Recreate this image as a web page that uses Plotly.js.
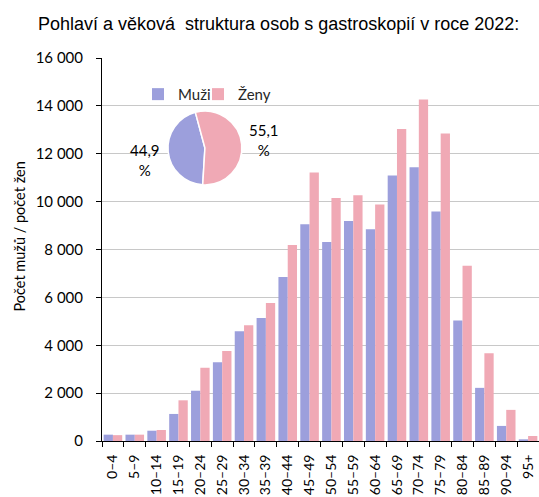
<!DOCTYPE html>
<html>
<head>
<meta charset="utf-8">
<script src="https://cdn.plot.ly/plotly-3.0.1.min.js"></script>
<style>html,body{margin:0;padding:0;background:#fff;}#chart{width:539px;height:497px;}</style>
</head>
<body>
<div id="chart"></div>
<script>
const categories = ['0–4','5–9','10–14','15–19','20–24','25–29','30–34','35–39','40–44','45–49','50–54','55–59','60–64','65–69','70–74','75–79','80–84','85–89','90–94','95+'];
const men   = [265, 265, 430, 1130, 2100, 3290, 4590, 5140, 6850, 9050, 8310, 9190, 8850, 11090, 11440, 9590, 5030, 2220, 630, 70];
const women = [245, 265, 460, 1700, 3060, 3760, 4840, 5760, 8190, 11220, 10150, 10270, 9880, 13030, 14270, 12850, 7320, 3670, 1300, 210];
const seriesNames = ['Muži', 'Ženy'];
const shares = [44.9, 55.1];
const yTicks = [0, 2000, 4000, 6000, 8000, 10000, 12000, 14000, 16000];
const yTitle = 'Počet mužů / počet žen';

const blue = '#9c9fdc';
const pink = '#f0a9b5';
const bodyFont = 'Lato, "Open Sans", sans-serif';

const traces = [
  {type: 'bar', name: seriesNames[0], x: categories, y: men, marker: {color: blue}, hoverinfo: 'none', legend: 'legend'},
  {type: 'bar', name: seriesNames[1], x: categories, y: women, marker: {color: pink}, hoverinfo: 'none', legend: 'legend2'},
  {type: 'pie', labels: seriesNames, values: shares, sort: false, direction: 'clockwise', rotation: -176.6,
   marker: {colors: [blue, pink], line: {color: '#ffffff', width: 1.5}},
   textinfo: 'none', showlegend: false, hoverinfo: 'none',
   domain: {x: [0.151, 0.320], y: [0.664, 0.866]}}
];

const fmt = v => v.toFixed(1).replace('.', ',') + '<br>%';
const legendBase = {orientation: 'h', xanchor: 'left', y: 0.905, yanchor: 'middle',
  font: {family: bodyFont, size: 15, color: '#262626'}, bgcolor: 'rgba(0,0,0,0)', itemwidth: 30};

const layout = {
  width: 539, height: 497,
  margin: {l: 102, r: 0, t: 58, b: 56, pad: 0},
  paper_bgcolor: '#ffffff', plot_bgcolor: '#ffffff',
  separators: ', ',
  font: {family: bodyFont, size: 14, color: '#262626'},
  title: {text: 'Pohlaví a věková\u00A0 struktura osob s gastroskopií v roce 2022:',
          font: {family: '"Liberation Sans", Arial, sans-serif', size: 18, color: '#000000'},
          x: 0.517, xanchor: 'center', xref: 'container', y: 0.952, yanchor: 'middle', yref: 'container'},
  barmode: 'group', bargap: 0.15, bargroupgap: 0,
  showlegend: true,
  legend: Object.assign({}, legendBase, {x: (138-102)/437}),
  legend2: Object.assign({}, legendBase, {x: (198-102)/437}),
  xaxis: {type: 'category', showline: true, linecolor: '#000000', linewidth: 1,
          ticks: 'outside', tickson: 'boundaries', ticklen: 5, tickcolor: '#000000',
          tickangle: -90, ticklabelstandoff: 7, tickfont: {family: bodyFont, size: 14, color: '#000000'},
          showgrid: false, zeroline: false, fixedrange: true},
  yaxis: {range: [0, 16000], tickvals: yTicks, tickformat: ',d',
          showline: true, linecolor: '#000000', linewidth: 1,
          ticks: 'outside', ticklen: 5, tickcolor: '#000000', ticklabelstandoff: 10,
          tickfont: {family: bodyFont, size: 15, color: '#000000'},
          showgrid: true, gridcolor: '#c8c8c8', gridwidth: 1, zeroline: false,
          fixedrange: true},
  annotations: [
    {text: yTitle, xref: 'paper', yref: 'paper', x: (19-102)/437, y: (441-236.5)/383, textangle: -90,
     xanchor: 'center', yanchor: 'middle', showarrow: false,
     font: {family: bodyFont, size: 14.5, color: '#000000'}},
    {text: fmt(shares[0]), xref: 'paper', yref: 'paper', x: (145-102)/437, y: (441-160)/383,
     xanchor: 'center', yanchor: 'middle', showarrow: false, align: 'center',
     font: {family: bodyFont, size: 15, color: '#000000'}},
    {text: fmt(shares[1]), xref: 'paper', yref: 'paper', x: (264-102)/437, y: (441-140)/383,
     xanchor: 'center', yanchor: 'middle', showarrow: false, align: 'center',
     font: {family: bodyFont, size: 15, color: '#000000'}}
  ]
};

Plotly.newPlot('chart', traces, layout, {displayModeBar: false, staticPlot: true});
</script>
</body>
</html>
